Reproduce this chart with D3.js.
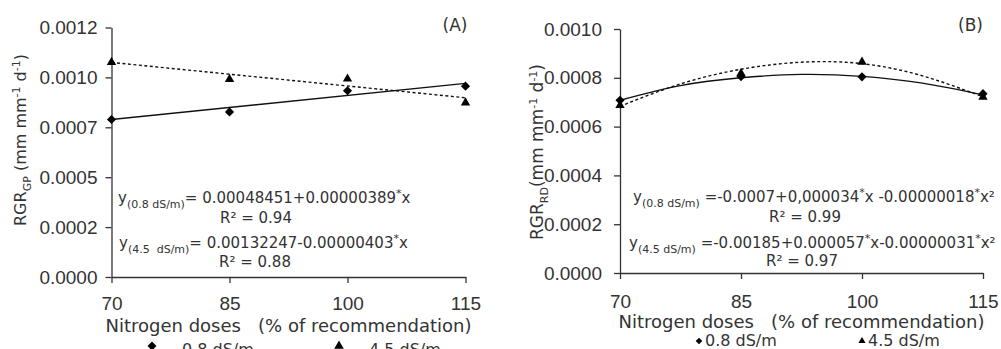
<!DOCTYPE html>
<html>
<head>
<meta charset="utf-8">
<script src="https://cdnjs.cloudflare.com/ajax/libs/d3/7.8.5/d3.min.js"></script>
<style>
  body { margin: 0; background: #fff; }
  svg text { fill: #333; white-space: pre; }
</style>
</head>
<body>
<div id="chart"></div>
<script>
// nitrogen doses (% of recommendation)
const doses = [70, 85, 100, 115];

// panel A - RGR_GP means, 0.8 and 4.5 dS/m
const gpLow = [0.000789, 0.000827, 0.000933, 0.000956];
const gpHigh = [0.001076, 0.000991, 0.000993, 0.000873];
// fitted lines, read at the ends
const gpFitDoses = [70, 115];
const gpFitLow = [0.000789, 0.000970];
const gpFitHigh = [0.001075, 0.000898];

// panel B - RGR_RD means
const rdLow = [0.000708, 0.000805, 0.000804, 0.000735];
const rdHigh = [0.000687, 0.000818, 0.000865, 0.000721];
// fitted quadratics
const rdFitDoses = [70, 77.5, 85, 92.5, 100, 107.5, 115];
const rdFitLow = [0.000708, 0.000768, 0.000800, 0.000814, 0.000806, 0.000778, 0.000730];
const rdFitHigh = [0.000683, 0.000775, 0.000835, 0.000864, 0.000858, 0.000808, 0.000722];

const gpTicks = [0, 0.00025, 0.0005, 0.00075, 0.001, 0.00125];
const gpTickLabels = ["0.0000", "0.0002", "0.0005", "0.0007", "0.0010", "0.0012"];
const rdTicks = [0, 0.0002, 0.0004, 0.0006, 0.0008, 0.001];
const rdTickLabels = ["0.0000", "0.0002", "0.0004", "0.0006", "0.0008", "0.0010"];

const legendLabels = ["0.8 dS/m", "4.5 dS/m"];

const W = 1001, H = 349;
const svg = d3.select("#chart").append("svg")
  .attr("width", W)
  .attr("height", H);

const textFont = "DejaVu Sans";
const numFont = "Liberation Sans";

// text with sub/superscript pieces
function richText(g, x, y, parts, size, small, extra) {
  const t = g.append("text")
    .attr("x", x)
    .attr("y", y)
    .attr("font-family", textFont)
    .attr("font-size", size);
  if (extra) extra(t);
  let shift = 0;
  parts.forEach(([s, kind]) => {
    const target = kind === "sub" ? size * 0.3 : kind === "sup" ? -size * 0.38 : 0;
    const ts = t.append("tspan").attr("dy", target - shift).text(s);
    if (kind) ts.attr("font-size", small);
    shift = target;
  });
  return t;
}

const diamond = d3.symbol().type(d3.symbolSquare);
const triangle = d3.symbol().type(d3.symbolTriangle);

function drawPanel(p) {
  const g = svg.append("g");

  const x = d3.scaleLinear().domain([70, 115]).range([p.left, p.right]);
  const y = d3.scaleLinear().domain([0, p.yMax]).range([p.bottom, p.top]);

  // y axis
  const ya = g.append("g")
    .attr("transform", `translate(${p.left},0)`)
    .call(d3.axisLeft(y)
      .tickValues(p.yTicks)
      .tickFormat((d, i) => p.yLabels[i])
      .tickSize(6)
      .tickSizeOuter(0)
      .tickPadding(p.yPad));

  // x axis
  const xa = g.append("g")
    .attr("transform", `translate(0,${p.bottom})`)
    .call(d3.axisBottom(x)
      .tickValues(doses)
      .tickSize(6)
      .tickSizeOuter(0)
      .tickPadding(p.xPad));

  [ya, xa].forEach(a => {
    a.attr("font-family", numFont).attr("font-size", 19);
    a.select(".domain").attr("stroke", "#333").attr("stroke-width", 1.3);
    a.selectAll(".tick line").attr("stroke", "#333").attr("stroke-width", 1.3);
    a.selectAll(".tick text").attr("fill", "#333");
  });

  // fitted lines
  const line = d3.line()
    .x(d => x(d[0]))
    .y(d => y(d[1]))
    .curve(p.curve);

  g.append("path")
    .datum(p.fitDoses.map((d, i) => [d, p.fitLow[i]]))
    .attr("fill", "none")
    .attr("stroke", "#111")
    .attr("stroke-width", 1.4)
    .attr("d", line);

  g.append("path")
    .datum(p.fitDoses.map((d, i) => [d, p.fitHigh[i]]))
    .attr("fill", "none")
    .attr("stroke", "#111")
    .attr("stroke-width", 1.4)
    .attr("stroke-dasharray", "3,2.5")
    .attr("d", line);

  // markers: triangles under diamonds
  g.selectAll(".tri")
    .data(doses.map((d, i) => [d, p.high[i]]))
    .join("path")
    .attr("class", "tri")
    .attr("transform", d => `translate(${x(d[0])},${y(d[1])})`)
    .attr("d", triangle.size(38))
    .attr("fill", "#000");

  g.selectAll(".dia")
    .data(doses.map((d, i) => [d, p.low[i]]))
    .join("path")
    .attr("class", "dia")
    .attr("transform", d => `translate(${x(d[0])},${y(d[1])}) rotate(45)`)
    .attr("d", diamond.size(42))
    .attr("fill", "#000");

  // panel letter
  g.append("text")
    .attr("x", p.right + p.letterDx)
    .attr("y", 31)
    .attr("text-anchor", "end")
    .attr("font-family", textFont)
    .attr("font-size", 17)
    .text(p.letter);

  // axis titles
  g.append("text")
    .attr("x", (p.left + p.right) / 2 + p.xTitleDx)
    .attr("y", p.xTitleY)
    .attr("text-anchor", "middle")
    .attr("font-family", textFont)
    .attr("font-size", 18)
    .text("Nitrogen doses   (% of recommendation)");

  richText(g, 0, 0, p.yTitle, p.yTitleSize, 11, t => t
    .attr("text-anchor", "middle")
    .attr("transform", `translate(${p.yTitleX},${p.yTitleY}) rotate(-90)`));

  // equations
  p.eqs.forEach(e => {
    const t = richText(g, e.x, e.y, e.parts, 15, 11);
    if (e.anchor) t.attr("text-anchor", e.anchor);
  });

  // legend
  const lg = p.legend;
  g.append("path")
    .attr("transform", `translate(${lg.x1},${lg.y}) rotate(45)`)
    .attr("d", diamond.size(lg.size))
    .attr("fill", "#000");
  g.append("path")
    .attr("transform", `translate(${lg.x2},${lg.y})`)
    .attr("d", triangle.size(lg.size))
    .attr("fill", "#000");
  [[lg.x1, legendLabels[0]], [lg.x2, legendLabels[1]]].forEach(([lx, s]) => {
    g.append("text")
      .attr("x", lx + lg.gap)
      .attr("y", lg.ty)
      .attr("font-family", textFont)
      .attr("font-size", 16)
      .text(s);
  });
}

drawPanel({
  left: 111.5, right: 465.5, top: 27.5, bottom: 277,
  yMax: 0.00125, yTicks: gpTicks, yLabels: gpTickLabels,
  yPad: 8, xPad: 14,
  low: gpLow, high: gpHigh,
  fitDoses: gpFitDoses, fitLow: gpFitLow, fitHigh: gpFitHigh,
  curve: d3.curveLinear,
  letter: "(A)", letterDx: 2,
  xTitleDx: 0, xTitleY: 332,
  yTitle: [["RGR", null], ["GP", "sub"], [" (mm mm", null], ["-1", "sup"], [" d", null], ["-1", "sup"], [")", null]],
  yTitleSize: 16, yTitleX: 26, yTitleY: 140,
  eqs: [
    { x: 118, y: 203, parts: [["y", null], ["(0.8 dS/m)", "sub"], ["= 0.00048451+0.00000389", null], ["*", "sup"], ["x", null]] },
    { x: 256, y: 223, anchor: "middle", parts: [["R² = 0.94", null]] },
    { x: 119, y: 248, parts: [["y", null], ["(4.5  dS/m)", "sub"], ["= 0.00132247-0.00000403", null], ["*", "sup"], ["x", null]] },
    { x: 255, y: 267, anchor: "middle", parts: [["R² = 0.88", null]] }
  ],
  legend: { x1: 152, x2: 339, y: 346, size: 40, gap: 30, ty: 355 }
});

drawPanel({
  left: 620, right: 983, top: 29, bottom: 273,
  yMax: 0.001, yTicks: rdTicks, yLabels: rdTickLabels,
  yPad: 12, xPad: 16,
  low: rdLow, high: rdHigh,
  fitDoses: rdFitDoses, fitLow: rdFitLow, fitHigh: rdFitHigh,
  curve: d3.curveNatural,
  letter: "(B)", letterDx: 0,
  xTitleDx: 0, xTitleY: 328,
  yTitle: [["RGR", null], ["RD", "sub"], ["(mm mm", null], ["-1", "sup"], [" d", null], ["-1", "sup"], [")", null]],
  yTitleSize: 17, yTitleX: 543, yTitleY: 152,
  eqs: [
    { x: 633, y: 202, parts: [["y", null], ["(0.8 dS/m)", "sub"], [" =-0.0007+0,000034", null], ["*", "sup"], ["x -0.00000018", null], ["*", "sup"], ["x²", null]] },
    { x: 805, y: 222, anchor: "middle", parts: [["R² = 0.99", null]] },
    { x: 629, y: 248, parts: [["y", null], ["(4.5 dS/m)", "sub"], [" =-0.00185+0.000057", null], ["*", "sup"], ["x-0.00000031", null], ["*", "sup"], ["x²", null]] },
    { x: 802, y: 266, anchor: "middle", parts: [["R² = 0.97", null]] }
  ],
  legend: { x1: 699, x2: 862, y: 341, size: 22, gap: 6, ty: 346 }
});
</script>
</body>
</html>
